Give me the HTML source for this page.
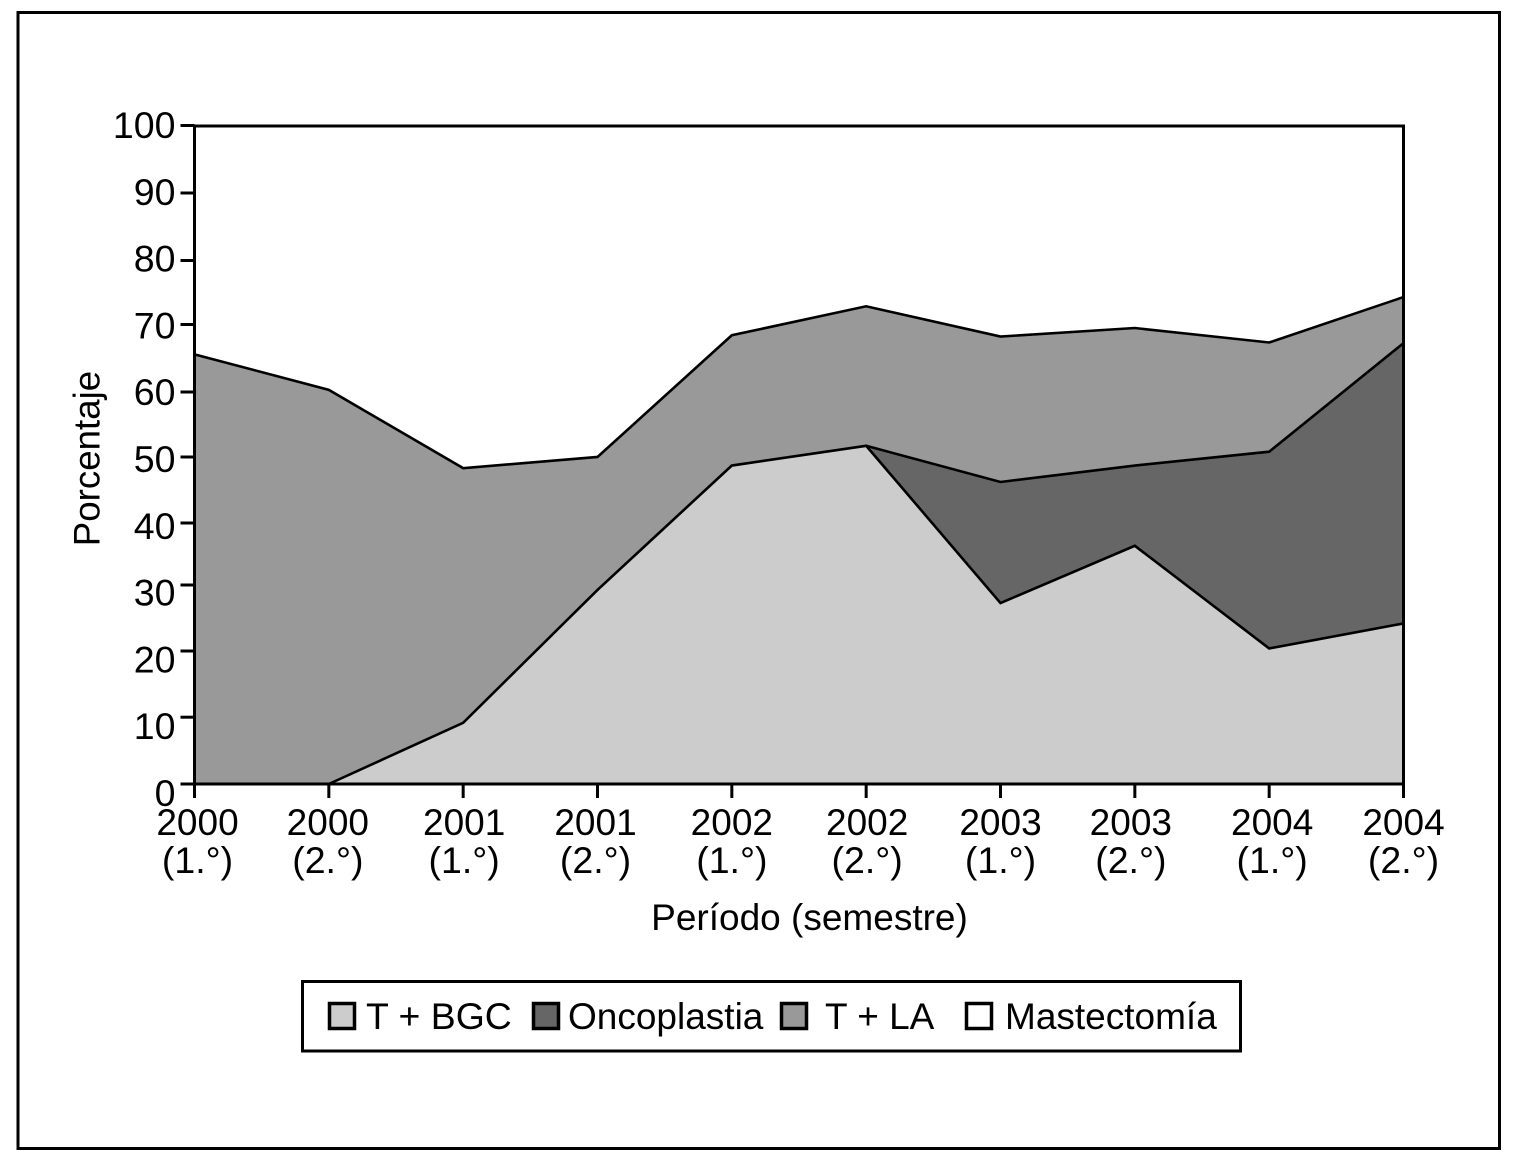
<!DOCTYPE html>
<html lang="es">
<head>
<meta charset="utf-8">
<title>Porcentaje por período</title>
<style>
html,body{margin:0;padding:0;background:#fff;width:1515px;height:1159px;overflow:hidden}
svg{display:block}
text{font-family:"Liberation Sans",sans-serif;fill:#000}
</style>
</head>
<body>
<svg id="chart" xmlns="http://www.w3.org/2000/svg" width="1515" height="1159" viewBox="0 0 1515 1159">
<rect x="18" y="12.5" width="1481.5" height="1136" fill="#fff" stroke="#000" stroke-width="3"/>
<g id="plot"></g>
<text transform="translate(99.5,458.5) rotate(-90)" text-anchor="middle" font-size="36.7">Porcentaje</text>
<text x="809.5" y="930" text-anchor="middle" font-size="37">Período (semestre)</text>
<rect x="302.5" y="981.5" width="938" height="69.5" fill="#fff" stroke="#000" stroke-width="3"/>
<g>
<rect x="329.5" y="1003.5" width="25" height="25" fill="#cccccc" stroke="#000" stroke-width="3.5"/>
<text x="366" y="1029" font-size="37.4">T + BGC</text>
</g>
<g>
<rect x="533.5" y="1003.5" width="25" height="25" fill="#666666" stroke="#000" stroke-width="3.5"/>
<text x="568" y="1029" font-size="37">Oncoplastia</text>
</g>
<g>
<rect x="781.5" y="1003.5" width="25" height="25" fill="#999999" stroke="#000" stroke-width="3.5"/>
<text x="825" y="1029" font-size="37">T + LA</text>
</g>
<g>
<rect x="966.5" y="1003.5" width="25" height="25" fill="#ffffff" stroke="#000" stroke-width="3.5"/>
<text x="1005" y="1029" font-size="37">Mastectomía</text>
</g>
</svg>
<script>
const years = ["2000","2000","2001","2001","2002","2002","2003","2003","2004","2004"];
const semesters = ["(1.°)","(2.°)","(1.°)","(2.°)","(1.°)","(2.°)","(1.°)","(2.°)","(1.°)","(2.°)"];
const yTicks = [0,10,20,30,40,50,60,70,80,90,100];
const tBgc = [0,0,9.3,29.5,48.4,51.4,27.5,36.2,20.6,24.4];
const oncoplastia = [0,0,0,0,0,0,18.4,12.2,29.9,42.6];
const tLa = [65.3,59.9,38.7,20.2,19.8,21.2,22.1,20.9,16.6,7.0];
const mastectomia = [34.7,40.1,52,50.3,31.8,27.4,32,30.7,32.9,26];

const NS = "http://www.w3.org/2000/svg";
const plot = document.getElementById("plot");
const left = 194.5, right = 1403.5, top_ = 126, bottom = 784;
function xScale(i){ return left + (right - left) * i / (years.length - 1); }
function yScale(v){ return bottom - (bottom - top_) * v / 100; }
// The printed tick labels sit on their own slightly different vertical scale.
function yLabelBaseline(v){ return 806 - 6.68 * v; }
// Hand-set label offsets seen in the source typesetting.
function xLabelOffset(i){ return [3,-1,1,-2,0,1,0,-4,3,0][i]; }
function yTickOffset(v){ return {0:0,10:-1,20:-1.4,30:-1.6,40:2.2,50:2,60:2.8,70:1.1,80:2.9,90:1.2,100:-0.5}[v]; }
function make(tag, attrs){
  const el = document.createElementNS(NS, tag);
  for (const k in attrs) el.setAttribute(k, attrs[k]);
  plot.appendChild(el);
  return el;
}
const layers = [
  {name:"t-bgc", values:tBgc, fill:"#cccccc"},
  {name:"oncoplastia", values:oncoplastia, fill:"#666666"},
  {name:"t-la", values:tLa, fill:"#999999"},
  {name:"mastectomia", values:mastectomia, fill:"#ffffff"}
];
let base = years.map(() => 0);
const stacked = layers.map(l => {
  const lower = base;
  const upper = base.map((b, i) => b + l.values[i]);
  base = upper;
  return {name:l.name, fill:l.fill, lower, upper};
});
for (let s = stacked.length - 1; s >= 0; s--) {
  const l = stacked[s];
  const up = l.upper.map((v, i) => xScale(i).toFixed(2) + "," + yScale(v).toFixed(2));
  const low = l.lower.map((v, i) => xScale(i).toFixed(2) + "," + yScale(v).toFixed(2)).reverse();
  const area = make("polygon", {points: up.concat(low).join(" "), fill: l.fill, stroke: "none"});
  
  
}
for (let s = 0; s < stacked.length - 1; s++) {
  const l = stacked[s];
  let pts = l.upper.map((v, i) => ({i, v}));
  if (l.name === "oncoplastia") pts = pts.filter(p => p.i >= 5);
  if (l.name === "t-bgc") pts = pts.filter(p => p.i >= 1);
  const line = make("polyline", {
    points: pts.map(p => xScale(p.i).toFixed(2) + "," + yScale(p.v).toFixed(2)).join(" "),
    fill: "none", stroke: "#000", "stroke-width": 2.6, "stroke-linejoin": "miter"
  });
  
  
}
const frame = make("rect", {x:left, y:top_, width:right-left, height:bottom-top_, fill:"none", stroke:"#000", "stroke-width":3});


yTicks.forEach(v => {
  const ty = yScale(v) + yTickOffset(v);
  const tick = make("line", {x1:left-14, x2:left, y1:ty, y2:ty, stroke:"#000", "stroke-width":3});
  
  
  const label = make("text", {x:left-19, y:yLabelBaseline(v), "text-anchor":"end", "font-size":37.5});
  label.textContent = v;
  
  
});
years.forEach((yr, i) => {
  const tick = make("line", {x1:xScale(i), x2:xScale(i), y1:bottom, y2:bottom+14, stroke:"#000", "stroke-width":3});
  
  
  const yLabel = make("text", {x:xScale(i)+xLabelOffset(i), y:835, "text-anchor":"middle", "font-size":37});
  yLabel.textContent = yr;
  
  
  const sLabel = make("text", {x:xScale(i)+xLabelOffset(i), y:873, "text-anchor":"middle", "font-size":37.5});
  sLabel.textContent = semesters[i];
  
  
});
</script>
</body>
</html>
